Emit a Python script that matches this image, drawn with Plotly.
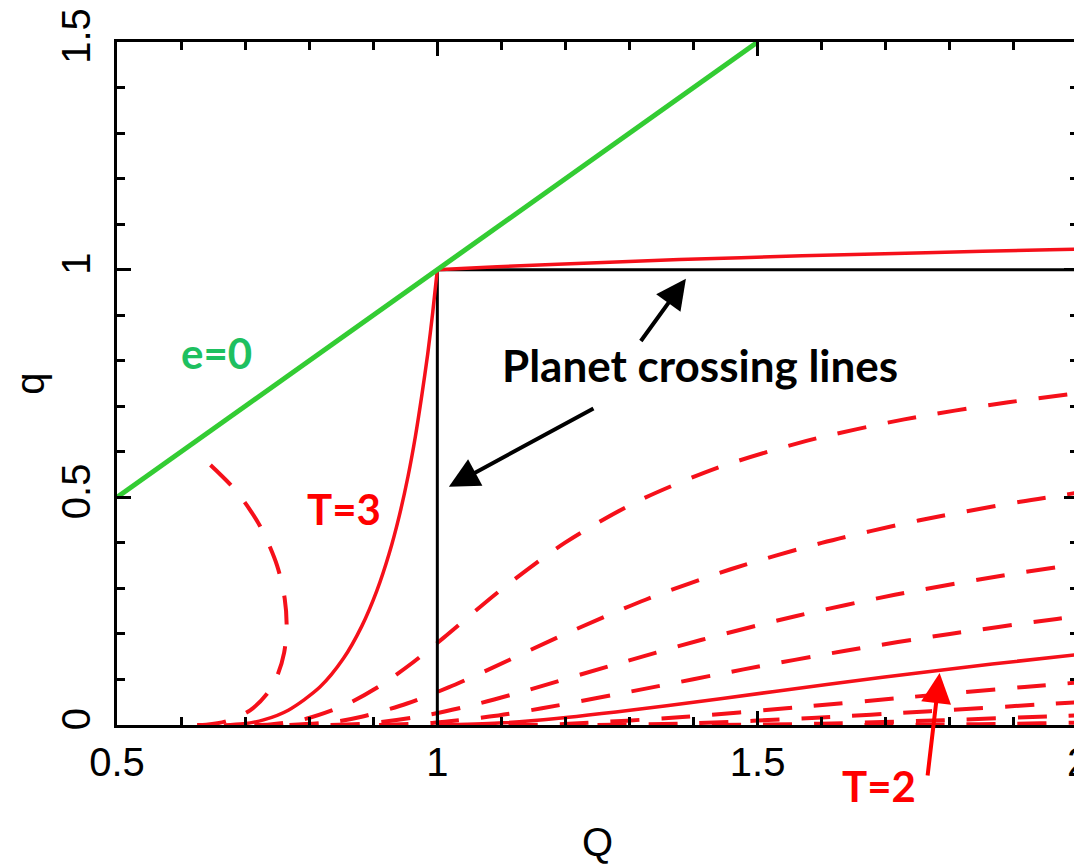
import plotly.graph_objects as go

# ---- data (Q = aphelion, q = perihelion) ----
# e = 0 line
E0_Q = [0.5, 1.5]
E0_q = [0.5, 1.5]

# planet crossing lines
PX_V_Q = [1.0, 1.0]
PX_V_q = [0.0, 1.0]
PX_H_Q = [1.0, 2.0]
PX_H_q = [1.0, 1.0]

# solid T=3 curve (left branch up to Q=q=1, right branch beyond)
T30L_Q = [0.6667, 0.6974, 0.7288, 0.7674, 0.8167, 0.8536, 0.8823, 0.9055, 0.9246, 0.9406,
          0.9542, 0.9658, 0.9758, 0.9850, 0.9929, 1.0]
T30L_q = [0.0, 0.0026, 0.0112, 0.0326, 0.0833, 0.1464, 0.2177, 0.2945, 0.3754, 0.4594,
          0.5458, 0.6342, 0.7242, 0.8150, 0.9071, 1.0]
T30R_Q = [1.0, 1.0374, 1.0937, 1.1879, 1.3780, 1.5696, 1.7626, 1.9560, 2.0147]
T30R_q = [1.0, 1.0026, 1.0063, 1.0121, 1.0221, 1.0304, 1.0374, 1.0437, 1.0453]

# solid T=2 curve
T20_Q = [1.0, 1.0959, 1.1859, 1.3579, 1.5263, 1.6951, 1.8660, 2.0046]
T20_q = [0.0, 0.0042, 0.0141, 0.0421, 0.0737, 0.1049, 0.1340, 0.1554]

# dashed curves
T32_Q = [0.6250, 0.6393, 0.6715, 0.7077, 0.7332, 0.7505, 0.7609, 0.7648, 0.7617, 0.7499,
         0.7234, 0.6856, 0.6357]
T32_q = [0.0, 0.0007, 0.0085, 0.0323, 0.0668, 0.1095, 0.1591, 0.2152, 0.2783, 0.3501,
         0.4366, 0.5144, 0.5843]

T28_Q = [0.7143, 0.7388, 0.7886, 0.8561, 0.9123, 0.9623, 1.0091, 1.1011, 1.1994, 1.3102,
         1.4359, 1.5761, 1.7288, 1.8913, 2.0097]
T28_q = [0.0, 0.0012, 0.0114, 0.0439, 0.0877, 0.1378, 0.1909, 0.2989, 0.4006, 0.4898,
         0.5641, 0.6239, 0.6712, 0.7087, 0.7303]

T26_Q = [0.7692, 0.8340, 0.8818, 0.9528, 1.0174, 1.0789, 1.1999, 1.3249, 1.4579, 1.6000,
         1.7509, 1.9097, 2.0082]
T26_q = [0.0, 0.0060, 0.0182, 0.0472, 0.0826, 0.1211, 0.2001, 0.2751, 0.3421, 0.4000,
         0.4491, 0.4903, 0.5118]

T24_Q = [0.8333, 0.8960, 0.9796, 1.0559, 1.1285, 1.2700, 1.4128, 1.5605, 1.7141, 1.8738, 2.0054]
T24_q = [0.0, 0.0040, 0.0204, 0.0441, 0.0715, 0.1300, 0.1872, 0.2395, 0.2859, 0.3262, 0.3546]

T22_Q = [0.9091, 0.9950, 1.0815, 1.1633, 1.3212, 1.4779, 1.6370, 1.8000, 1.9670, 2.0009]
T22_q = [0.0, 0.0050, 0.0185, 0.0367, 0.0788, 0.1221, 0.1630, 0.2000, 0.2330, 0.2391]

T18_Q = [1.1111, 1.1978, 1.3825, 1.5612, 1.7386, 1.9165, 2.0060]
T18_q = [0.0, 0.0022, 0.0175, 0.0388, 0.0614, 0.0835, 0.0940]

T16_Q = [1.2500, 1.3963, 1.5845, 1.7696, 1.9539, 2.0000]
T16_q = [0.0, 0.0037, 0.0155, 0.0304, 0.0461, 0.0500]

T14_Q = [1.4286, 1.5972, 1.7895, 1.9798, 2.0026]
T14_q = [0.0, 0.0028, 0.0105, 0.0202, 0.0214]

T12_Q = [1.6667, 1.7990, 1.8973, 1.9950, 2.0050]
T12_q = [0.0, 0.0010, 0.0027, 0.0050, 0.0052]

DASHED = [(T32_Q, T32_q), (T28_Q, T28_q), (T26_Q, T26_q), (T24_Q, T24_q), (T22_Q, T22_q),
          (T18_Q, T18_q), (T16_Q, T16_q), (T14_Q, T14_q), (T12_Q, T12_q)]

X_TICKS = [0.5, 1.0, 1.5, 2.0]
X_TICKTEXT = ["0.5", "1", "1.5", "2"]
Y_TICKS = [0.0, 0.5, 1.0, 1.5]
Y_TICKTEXT = ["0", "0.5", "1", "1.5"]
X_RANGE = [0.5, 2.0]
Y_RANGE = [0.0, 1.5]

RED = "#f5101a"
GREEN = "#33cc33"

fig = go.Figure()

for qx, qy in DASHED:
    fig.add_trace(go.Scatter(x=qx, y=qy, mode="lines",
                             line=dict(color=RED, width=4, dash="29px,22px",
                                       shape="spline", smoothing=0.8)))

fig.add_trace(go.Scatter(x=PX_V_Q, y=PX_V_q, mode="lines", line=dict(color="black", width=3)))
fig.add_trace(go.Scatter(x=PX_H_Q, y=PX_H_q, mode="lines", line=dict(color="black", width=3)))
for qx, qy in [(T20_Q, T20_q), (T30L_Q, T30L_q), (T30R_Q, T30R_q)]:
    fig.add_trace(go.Scatter(x=qx, y=qy, mode="lines",
                             line=dict(color=RED, width=3.5, shape="spline", smoothing=0.8)))
fig.add_trace(go.Scatter(x=E0_Q, y=E0_q, mode="lines", line=dict(color=GREEN, width=5)))

# invisible trace to carry the mirrored top/right axes
fig.add_trace(go.Scatter(x=[None], y=[None], xaxis="x2", yaxis="y2", mode="lines",
                         hoverinfo="skip"))

tick_font = dict(family="Liberation Sans", size=40, color="black")

common = dict(ticks="inside", ticklen=14, tickwidth=3, tickcolor="black",
              minor=dict(ticks="inside", dtick=0.1, ticklen=8, tickwidth=3, tickcolor="black"),
              showline=True, linewidth=3, linecolor="black",
              showgrid=False, zeroline=False, automargin=False)

fig.update_layout(
    xaxis=dict(range=X_RANGE, tickvals=X_TICKS, ticktext=X_TICKTEXT, tickfont=tick_font,
               ticklabeloverflow="allow",
               title=dict(text="Q", font=tick_font, standoff=58), **common),
    yaxis=dict(range=Y_RANGE, tickvals=Y_TICKS, ticktext=Y_TICKTEXT, tickfont=tick_font,
               tickangle=-90, ticklabelstandoff=8, ticklabeloverflow="allow",
               title=dict(text="q", font=tick_font, standoff=30), **common),
    xaxis2=dict(range=X_RANGE, tickvals=X_TICKS, overlaying="x", side="top", anchor="y",
                showticklabels=False, **common),
    yaxis2=dict(range=Y_RANGE, tickvals=Y_TICKS, overlaying="y", side="right", anchor="x",
                showticklabels=False, **common),
)

ann_font = "Lato"
fig.add_annotation(x=1.4095, y=0.790, xref="x", yref="y", text="<b>Planet crossing lines</b>",
                   showarrow=False, font=dict(family=ann_font, size=44, color="black"))
fig.add_annotation(x=0.854, y=0.474, xref="x", yref="y", text="<b>T=3</b>",
                   showarrow=False, font=dict(family=ann_font, size=42, color="#ff0000"))
fig.add_annotation(x=0.656, y=0.817, xref="x", yref="y", text="<b>e=0</b>",
                   showarrow=False, font=dict(family=ann_font, size=42, color="#1ec060"))
fig.add_annotation(x=1.690, y=-0.135 / 1.5, xref="x", yref="paper", yanchor="middle",
                   xanchor="center", text="<b>T=2</b>",
                   showarrow=False, font=dict(family=ann_font, size=42, color="#ff0000"))

# arrows
arrow = dict(xref="x", yref="y", axref="x", ayref="y", text="", showarrow=True,
             arrowhead=2, arrowsize=1.5, arrowwidth=4)
fig.add_annotation(x=1.388, y=0.980, ax=1.316, ay=0.840, arrowcolor="black", **arrow)
fig.add_annotation(x=1.018, y=0.523, ax=1.246, ay=0.697, arrowcolor="black", **arrow)
fig.add_annotation(x=1.784, y=0.114, ax=1.765, ay=-0.114, arrowcolor="#ff0000", **arrow)

# the page body adds an 8px margin; margins below compensate so the
# plot area lands at the same place as in the reference
fig.update_layout(
    width=1074, height=856,
    margin=dict(l=109, r=4, t=34, b=139),
    plot_bgcolor="white", paper_bgcolor="white",
    showlegend=False,
)

fig.write_html("out.html")
